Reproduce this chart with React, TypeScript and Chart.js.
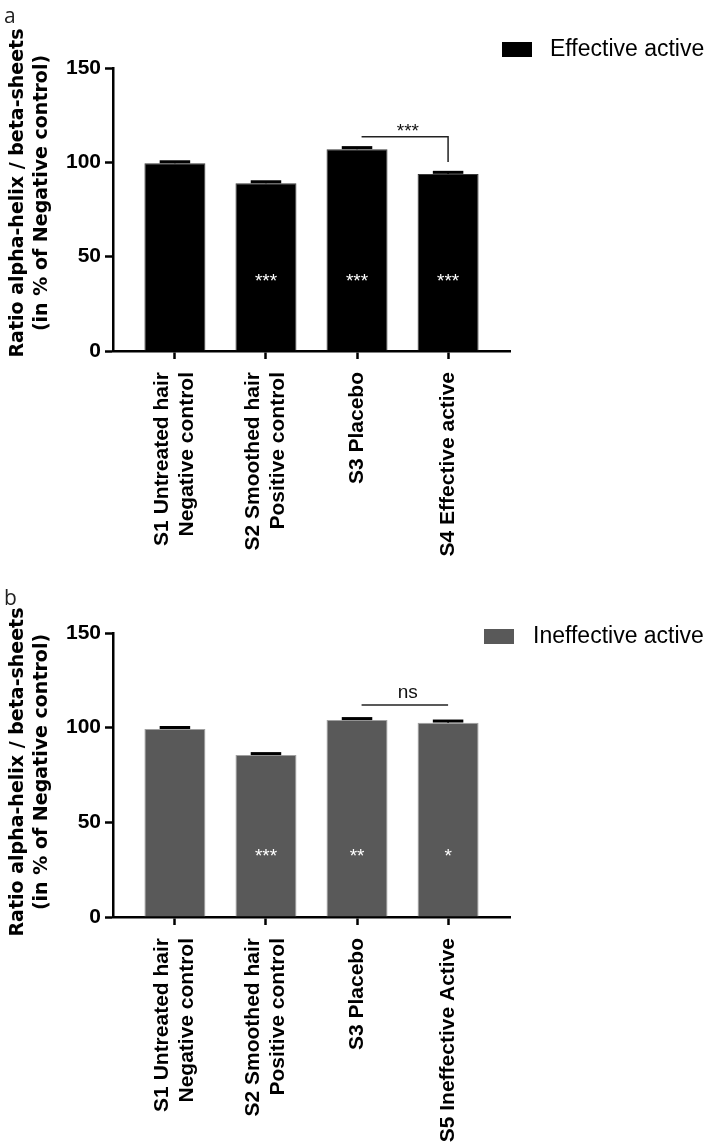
import React, { useEffect, useRef } from 'react';
import { Chart, registerables } from 'chart.js';

Chart.register(...registerables);

// ---------- data ----------
const categoriesA: string[][] = [
  ['S1 Untreated hair', 'Negative control'],
  ['S2 Smoothed hair', 'Positive control'],
  ['S3 Placebo'],
  ['S4 Effective active'],
];
const valuesA = [99.5, 88.9, 107.0, 93.8];
const errorsA = [0.8, 0.8, 0.8, 0.9];
const starsA = ['', '***', '***', '***'];

const categoriesB: string[][] = [
  ['S1 Untreated hair', 'Negative control'],
  ['S2 Smoothed hair', 'Positive control'],
  ['S3 Placebo'],
  ['S5 Ineffective Active'],
];
const valuesB = [99.3, 85.6, 104.1, 102.6];
const errorsB = [0.8, 0.7, 0.7, 0.9];
const starsB = ['', '***', '**', '*'];

const yTicks = [0, 50, 100, 150];
const yTitle = ['Ratio alpha-helix / beta-sheets', '(in % of Negative control)'];

type Panel = {
  letter: string;
  legend: string;
  categories: string[][];
  values: number[];
  errors: number[];
  stars: string[];
  starLevel: number;
  bracket: { from: number; to: number; level: number; drop: number | null; text: string; textLevel: number };
  color: string;
  border: string;
  height: number;
  top: number;
  titleOffset: number;
  letterY: number;
  legendPos: { x: number; y: number; textX: number };
};

const panels: Panel[] = [
  {
    letter: 'a',
    legend: 'Effective active',
    categories: categoriesA,
    values: valuesA,
    errors: errorsA,
    stars: starsA,
    starLevel: 39,
    bracket: { from: 2.05, to: 3, level: 113.6, drop: 100.2, text: '***', textLevel: 118.5 },
    color: '#000000',
    border: '#3a3a3a',
    height: 565,
    top: 0,
    titleOffset: 125,
    letterY: 23,
    legendPos: { x: 502, y: 42, textX: 550 },
  },
  {
    letter: 'b',
    legend: 'Ineffective active',
    categories: categoriesB,
    values: valuesB,
    errors: errorsB,
    stars: starsB,
    starLevel: 34,
    bracket: { from: 2.05, to: 3, level: 112, drop: null, text: 'ns', textLevel: 118.5 },
    color: '#595959',
    border: '#a0a0a0',
    height: 580,
    top: 565,
    titleOffset: 139,
    letterY: 40,
    legendPos: { x: 484, y: 64, textX: 533 },
  },
];

const SANS = '"Liberation Sans", Arial, Helvetica, sans-serif';

const overlayPlugin = {
  id: 'overlay',
  afterDraw(chart: any, _args: any, opts: any) {
    const p: Panel = opts.panel;
    const { ctx, chartArea } = chart;
    const xs = chart.scales.x;
    const ys = chart.scales.y;
    const meta = chart.getDatasetMeta(0);
    ctx.save();

    // error caps + stars
    meta.data.forEach((bar: any, i: number) => {
      const bp = bar.getProps(['x', 'y', 'width'], true);
      const yTop = ys.getPixelForValue(p.values[i] + p.errors[i]);
      ctx.strokeStyle = '#000';
      ctx.lineWidth = 1.5;
      ctx.beginPath();
      ctx.moveTo(bp.x, bp.y);
      ctx.lineTo(bp.x, yTop);
      ctx.stroke();
      ctx.lineWidth = 3;
      ctx.beginPath();
      ctx.moveTo(bp.x - bp.width / 4, yTop);
      ctx.lineTo(bp.x + bp.width / 4, yTop);
      ctx.stroke();
      if (p.stars[i]) {
        ctx.fillStyle = '#ffffff';
        ctx.font = `19px ${SANS}`;
        ctx.textAlign = 'center';
        ctx.textBaseline = 'middle';
        ctx.fillText(p.stars[i], bp.x, ys.getPixelForValue(p.starLevel) + 4);
      }
    });

    // significance bracket
    const b = p.bracket;
    const bx1 = xs.getPixelForValue(b.from);
    const bx2 = xs.getPixelForValue(b.to);
    const by = ys.getPixelForValue(b.level);
    ctx.strokeStyle = '#222';
    ctx.lineWidth = 1.5;
    ctx.beginPath();
    ctx.moveTo(bx1, by);
    ctx.lineTo(bx2, by);
    if (b.drop !== null) ctx.lineTo(bx2, ys.getPixelForValue(b.drop));
    ctx.stroke();
    ctx.fillStyle = '#111';
    ctx.font = `${b.text === 'ns' ? 19 : 19}px ${SANS}`;
    ctx.textAlign = 'center';
    ctx.textBaseline = 'middle';
    ctx.fillText(b.text, (bx1 + bx2) / 2 + 3, ys.getPixelForValue(b.textLevel) + (b.text === 'ns' ? 0 : 4));

    // x category labels (rotated)
    ctx.fillStyle = '#000';
    ctx.font = `bold 21px ${SANS}`;
    ctx.textAlign = 'right';
    ctx.textBaseline = 'middle';
    p.categories.forEach((lines, i) => {
      const px = xs.getPixelForValue(i);
      const py = chartArea.bottom + 21;
      ctx.save();
      ctx.translate(px, py);
      ctx.rotate(-Math.PI / 2);
      const lh = 25;
      lines.forEach((ln, k) => {
        ctx.fillText(ln, 0, (k - (lines.length - 1) / 2) * lh);
      });
      ctx.restore();
    });

    // y title
    ctx.save();
    ctx.font = `bold 19px "DejaVu Sans", Verdana, sans-serif`;
    ctx.textAlign = 'center';
    ctx.textBaseline = 'middle';
    ctx.translate(0, chartArea.top + p.titleOffset);
    ctx.rotate(-Math.PI / 2);
    ctx.fillText(yTitle[0], 0, 18);
    ctx.fillText(yTitle[1], 0, 42);
    ctx.restore();

    // legend
    const ds = chart.data.datasets[0];
    const lp = p.legendPos;
    ctx.fillStyle = ds.backgroundColor;
    ctx.fillRect(lp.x, lp.y, 30, 15);
    ctx.fillStyle = '#000';
    ctx.font = `23px ${SANS}`;
    ctx.textAlign = 'left';
    ctx.textBaseline = 'middle';
    ctx.fillText(ds.label, lp.textX, lp.y + 8);

    // panel letter
    ctx.font = `21px "Open Sans", sans-serif`;
    ctx.textBaseline = 'alphabetic';
    ctx.fillStyle = '#222';
    ctx.fillText(p.letter, 4, p.letterY);

    ctx.restore();
  },
};

function PanelChart({ panel }: { panel: Panel }) {
  const ref = useRef<HTMLCanvasElement>(null);
  useEffect(() => {
    const canvas = ref.current!;
    const xIdx = panel.values.map((_, i) => i);
    const chart = new Chart(canvas, {
      type: 'bar',
      data: {
        datasets: [
          {
            label: panel.legend,
            data: panel.values.map((v, i) => ({ x: i, y: v })),
            backgroundColor: panel.color,
            borderColor: panel.border,
            borderWidth: 1,
            barPercentage: 0.67,
            categoryPercentage: 1,
          } as any,
        ],
      },
      options: {
        animation: false,
        responsive: false,
        devicePixelRatio: 1,
        layout: { padding: { top: 68, right: 199, left: 0, bottom: 0 } },
        plugins: {
          legend: { display: false },
          tooltip: { enabled: false },
          overlay: { panel },
        } as any,
        scales: {
          x: {
            type: 'linear',
            min: -0.68,
            max: 3.68,
            offset: false,
            afterBuildTicks: (s: any) => {
              s.ticks = xIdx.map((v) => ({ value: v }));
            },
            afterFit: (s: any) => {
              s.height = panel.height - (panel.top === 0 ? 351 : 352);
            },
            ticks: { display: false },
            grid: { offset: false, drawOnChartArea: false, drawTicks: true, tickLength: 8, tickWidth: 2.5, color: '#000' },
            border: { display: true, color: '#000', width: 2.5 },
          },
          y: {
            min: 0,
            max: 150,
            afterBuildTicks: (s: any) => {
              s.ticks = yTicks.map((v) => ({ value: v }));
            },
            afterFit: (s: any) => {
              s.width = 113;
            },
            ticks: { color: '#000', padding: 4, font: { family: SANS, weight: 'bold', size: 21 } },
            grid: { offset: false, drawOnChartArea: false, drawTicks: true, tickLength: 8, tickWidth: 2.5, color: '#000' },
            border: { display: true, color: '#000', width: 2.5 },
          },
        } as any,
      },
      plugins: [overlayPlugin],
    });
    return () => chart.destroy();
  }, [panel]);
  return (
    <canvas
      ref={ref}
      width={709}
      height={panel.height}
      style={{ position: 'absolute', left: 0, top: panel.top, width: 709, height: panel.height, display: 'block' }}
    />
  );
}

export default function App() {
  return (
    <div style={{ position: 'absolute', left: 0, top: 0, width: 709, height: 1145, background: '#fff' }}>
      {panels.map((p) => (
        <PanelChart key={p.letter} panel={p} />
      ))}
    </div>
  );
}
